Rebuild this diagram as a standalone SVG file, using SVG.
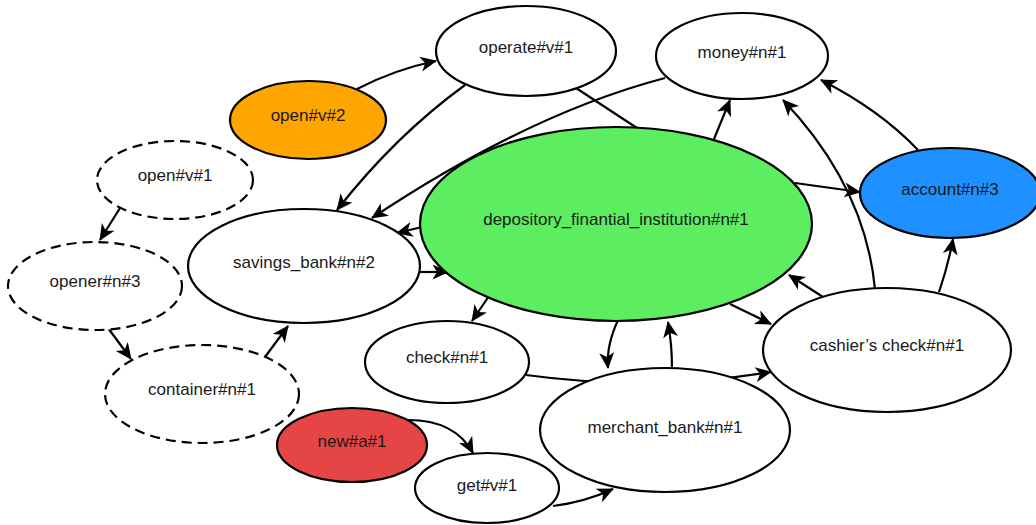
<svg xmlns="http://www.w3.org/2000/svg" width="1036" height="525" viewBox="0 0 1036 525">
<style>
.e{fill:none;stroke:#000;stroke-width:2.2}
.a{marker-end:url(#arr)}
.n ellipse{fill:#fff;stroke:#000;stroke-width:2.2}
.d ellipse{stroke-dasharray:10 6}
.n text{font-family:"Liberation Sans",Arial,sans-serif;font-size:17px;fill:#1a1a1a;text-anchor:middle}
</style>
<defs>
<marker id="arr" markerUnits="userSpaceOnUse" markerWidth="20" markerHeight="18" viewBox="-18 -9 20 18" refX="0" refY="0" orient="auto">
<path d="M1,0 L-15.5,-7.5 L-11,0 L-15.5,7.5 Z" fill="#000"/>
</marker>
</defs>
<rect width="1036" height="525" fill="#fff"/>
<g id="edges">
<path class="e a" d="M357,89 Q396,69 436,61"/>
<path class="e a" d="M465,85 Q395,136 337,210"/>
<path class="e" d="M576,88 L640,130"/>
<path class="e a" d="M665,78 Q528,114 372,218"/>
<path class="e a" d="M422,227 L397,233"/>
<path class="e a" d="M418,272 L448,272"/>
<path class="e a" d="M489,296 L472,321"/>
<path class="e a" d="M619,318 Q606,345 608,368"/>
<path class="e a" d="M672,368 Q672,345 668,322"/>
<path class="e a" d="M730,304 L771,324"/>
<path class="e a" d="M526,375 Q650,392 771,372"/>
<path class="e a" d="M823,297 L789,275"/>
<path class="e a" d="M795,183 L860,192"/>
<path class="e a" d="M714,139 L730,100"/>
<path class="e a" d="M875,289 Q865,186 783,100"/>
<path class="e a" d="M918,150 Q880,110 821,80"/>
<path class="e a" d="M939,292 Q948,266 953,239"/>
<path class="e a" d="M120,208 L100,240"/>
<path class="e a" d="M108,328 L131,359"/>
<path class="e a" d="M265,357 L288,326"/>
<path class="e a" d="M408,420 Q455,420 473,453"/>
<path class="e a" d="M553,506 Q585,502 613,489"/>
</g>
<g id="depository" class="n"><ellipse cx="616" cy="224" rx="196" ry="97" style="fill:#5ded61"/><text x="616" y="225">depository_finantial_institution#n#1</text></g>
<g id="operate" class="n"><ellipse cx="526" cy="51" rx="90" ry="45"/><text x="526" y="53">operate#v#1</text></g>
<g id="open2" class="n"><ellipse cx="308" cy="120" rx="78" ry="39" style="fill:#ffa500"/><text x="308" y="121">open#v#2</text></g>
<g id="money" class="n"><ellipse cx="742" cy="56" rx="86" ry="43"/><text x="742" y="58">money#n#1</text></g>
<g id="account" class="n"><ellipse cx="950" cy="193" rx="90" ry="45" style="fill:#1e90ff"/><text x="950" y="195">account#n#3</text></g>
<g id="open1" class="n d"><ellipse cx="175" cy="180" rx="78" ry="39"/><text x="175" y="181">open#v#1</text></g>
<g id="opener" class="n d"><ellipse cx="95" cy="286" rx="87" ry="44"/><text x="95" y="287">opener#n#3</text></g>
<g id="container" class="n d"><ellipse cx="202" cy="394" rx="97" ry="49"/><text x="202" y="395">container#n#1</text></g>
<g id="savings_bank" class="n"><ellipse cx="304" cy="266" rx="116" ry="57"/><text x="304" y="268">savings_bank#n#2</text></g>
<g id="check" class="n"><ellipse cx="447" cy="362" rx="82" ry="41"/><text x="447" y="363">check#n#1</text></g>
<g id="new" class="n"><ellipse cx="352" cy="445" rx="75" ry="37" style="fill:#e64545"/><text x="352" y="447">new#a#1</text></g>
<g id="get" class="n"><ellipse cx="487" cy="488" rx="72" ry="35"/><text x="487" y="491">get#v#1</text></g>
<g id="merchant_bank" class="n"><ellipse cx="665" cy="430" rx="125" ry="62"/><text x="665" y="433">merchant_bank#n#1</text></g>
<g id="cashiers_check" class="n"><ellipse cx="887" cy="350" rx="124" ry="62"/><text x="887" y="351">cashier’s check#n#1</text></g>
</svg>
